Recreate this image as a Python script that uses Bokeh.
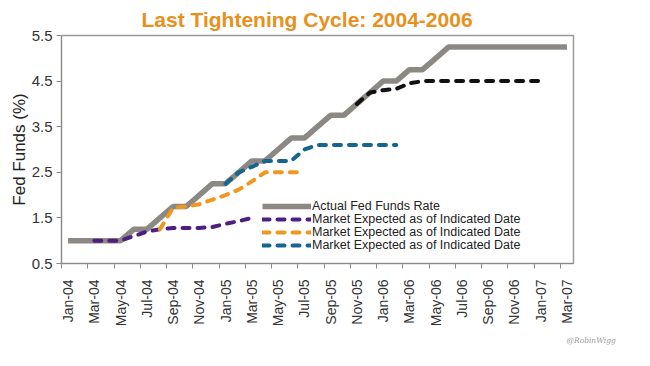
import math
from bokeh.plotting import figure
from bokeh.models import Range1d, FixedTicker, Legend, LegendItem, Title
from bokeh.embed import file_html
from bokeh.resources import INLINE

months = ["Jan-04", "Feb-04", "Mar-04", "Apr-04", "May-04", "Jun-04", "Jul-04", "Aug-04",
          "Sep-04", "Oct-04", "Nov-04", "Dec-04", "Jan-05", "Feb-05", "Mar-05", "Apr-05",
          "May-05", "Jun-05", "Jul-05", "Aug-05", "Sep-05", "Oct-05", "Nov-05", "Dec-05",
          "Jan-06", "Feb-06", "Mar-06", "Apr-06", "May-06", "Jun-06", "Jul-06", "Aug-06",
          "Sep-06", "Oct-06", "Nov-06", "Dec-06", "Jan-07", "Feb-07", "Mar-07"]

actual_rate = [1.0, 1.0, 1.0, 1.0, 1.0, 1.25, 1.25, 1.5, 1.75, 1.75, 2.0, 2.25, 2.25, 2.5,
               2.75, 2.75, 3.0, 3.25, 3.25, 3.5, 3.75, 3.75, 4.0, 4.25, 4.5, 4.5, 4.75,
               4.75, 5.0, 5.25, 5.25, 5.25, 5.25, 5.25, 5.25, 5.25, 5.25, 5.25, 5.25]

exp_mar04_months = months[2:15]
exp_mar04 = [1.0, 1.0, 1.0, 1.1, 1.2, 1.25, 1.28, 1.28, 1.28, 1.3, 1.37, 1.43, 1.5]

exp_jul04_months = months[7:19]
exp_jul04 = [1.25, 1.72, 1.75, 1.8, 1.9, 2.0, 2.12, 2.3, 2.5, 2.5, 2.5, 2.5]

exp_jan05_months = months[12:26]
exp_jan05 = [2.25, 2.5, 2.62, 2.75, 2.75, 2.75, 3.0, 3.1, 3.1, 3.1, 3.1, 3.1, 3.1, 3.1]

exp_nov05_months = months[22:37]
exp_nov05 = [4.0, 4.25, 4.3, 4.33, 4.45, 4.5, 4.5, 4.5, 4.5, 4.5, 4.5, 4.5, 4.5, 4.5, 4.5]

y_ticks = [0.5, 1.5, 2.5, 3.5, 4.5, 5.5]
legend_labels = ["Actual Fed Funds Rate", "Market Expected as of Indicated Date",
                 "Market Expected as of Indicated Date", "Market Expected as of Indicated Date"]

idx = {m: i for i, m in enumerate(months)}
def xs(ms):
    return [idx[m] for m in ms]

FONT = "Liberation Sans"

p = figure(width=634, height=350, output_backend="svg", toolbar_location=None,
           x_range=Range1d(-0.5, len(months) - 0.5), y_range=Range1d(0.5, 5.5),
           min_border_left=61, min_border_right=61, min_border_top=32, min_border_bottom=87,
           title="Last Tightening Cycle: 2004-2006")

p.title.text_font = FONT
p.title.text_font_size = "21px"
p.title.text_font_style = "bold"
p.title.text_color = "#E8901C"
p.title.align = "left"
p.title.offset = 80

p.xgrid.visible = False
p.ygrid.visible = False
p.outline_line_color = "#9a9a9a"
p.outline_line_width = 1.5
p.background_fill_color = "white"
p.border_fill_color = "white"

# axes
p.xaxis.ticker = FixedTicker(ticks=list(range(0, len(months), 2)),
                             minor_ticks=[i - 0.5 for i in range(0, len(months) + 1, 2)])
p.xaxis.major_label_overrides = {i: months[i] for i in range(0, len(months), 2)}
p.xaxis.major_label_orientation = math.pi / 2
p.xaxis.major_tick_out = 0
p.xaxis.major_tick_in = 0
p.xaxis.minor_tick_out = 5
p.xaxis.minor_tick_in = 0
p.xaxis.minor_tick_line_color = "#8a8a8a"
p.xaxis.major_label_standoff = 11

p.yaxis.ticker = FixedTicker(ticks=y_ticks)
p.yaxis.major_tick_out = 5
p.yaxis.major_tick_in = 0
p.yaxis.minor_tick_line_color = None
p.yaxis.major_label_standoff = 4
p.yaxis.axis_label = "Fed Funds (%)"
p.yaxis.axis_label_text_font = FONT
p.yaxis.axis_label_text_font_size = "17px"
p.yaxis.axis_label_text_font_style = "normal"
p.yaxis.axis_label_text_color = "#222222"
p.yaxis.axis_label_standoff = 0

for ax in (p.xaxis, p.yaxis):
    ax.axis_line_color = "#8a8a8a"
    ax.major_tick_line_color = "#8a8a8a"
    ax.major_label_text_font = FONT
    ax.major_label_text_color = "#333333"
p.xaxis.major_label_text_font_size = "14px"
p.yaxis.major_label_text_font_size = "15px"

dash = "7 8"
r_act = p.line(xs(months), actual_rate, line_color="#8c8984", line_width=5.5)
r_pur = p.line(xs(exp_mar04_months), exp_mar04, line_color="#4E1F80", line_width=4,
               line_dash=dash, line_cap="round")
r_org = p.line(xs(exp_jul04_months), exp_jul04, line_color="#F0971F", line_width=4,
               line_dash=dash, line_cap="round")
r_teal = p.line(xs(exp_jan05_months), exp_jan05, line_color="#14658F", line_width=4,
                line_dash=dash, line_cap="round")
r_blk = p.line(xs(exp_nov05_months), exp_nov05, line_color="#111111", line_width=4,
               line_dash=dash, line_cap="round")

# one legend per row so that rows sit close together as in the reference
for k, (lab, rend) in enumerate(zip(legend_labels, [r_act, r_pur, r_org, r_teal])):
    lg = Legend(items=[LegendItem(label=lab, renderers=[rend])],
                location=(201, 50 - 13 * k), padding=0, margin=0, spacing=0,
                glyph_width=49, glyph_height=12, label_height=12, label_standoff=1,
                label_text_font=FONT, label_text_font_size="12.5px",
                label_text_color="#222222", border_line_color=None,
                background_fill_alpha=0)
    p.add_layout(lg, "center")

wm = Title(text="@RobinWigg", align="left", offset=505, standoff=8,
           text_font="DejaVu Serif", text_font_style="italic", text_font_size="7.5px",
           text_color="#9a9a9a")
p.add_layout(wm, "below")

open("out.html", "w").write(file_html(p, INLINE))
